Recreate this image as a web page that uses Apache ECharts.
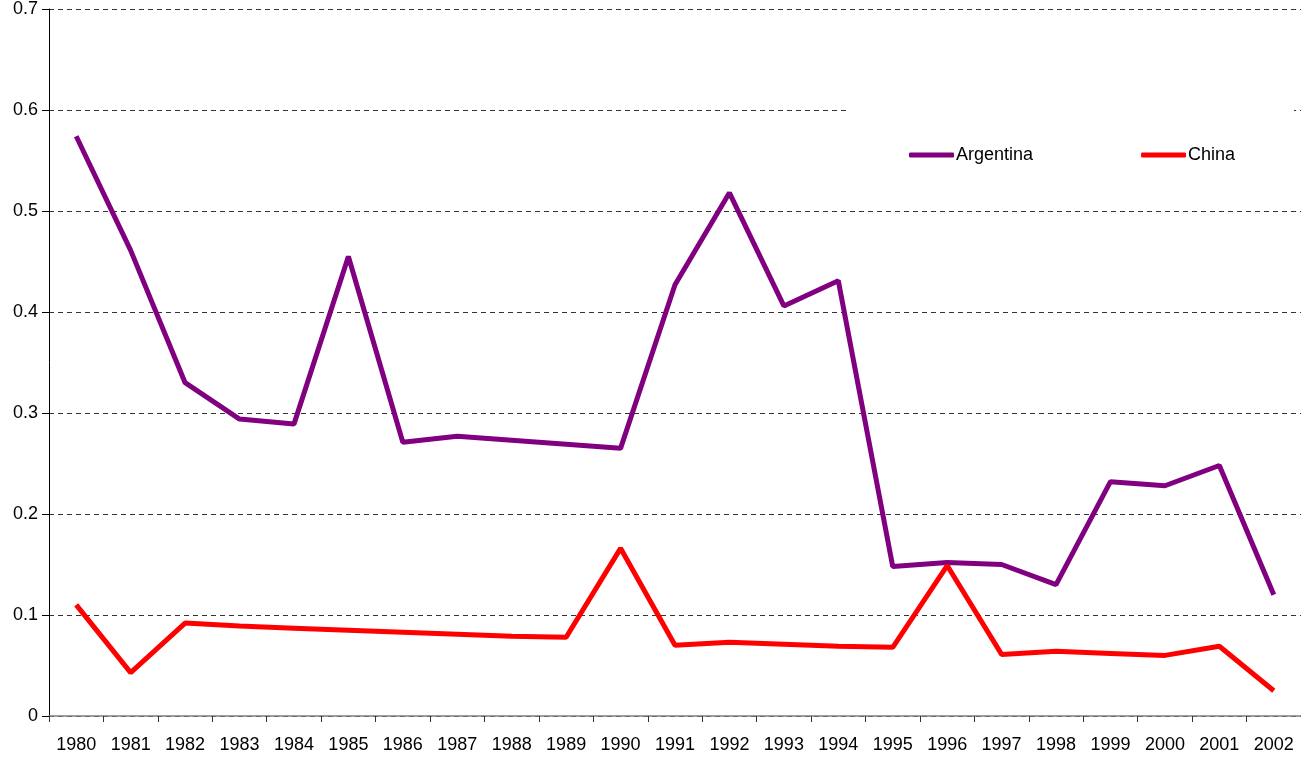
<!DOCTYPE html>
<html>
<head>
<meta charset="utf-8">
<script src="https://cdn.jsdelivr.net/npm/echarts@6/dist/echarts.min.js"></script>
<style>
  html, body { margin: 0; padding: 0; background: #fff; }
  #chart { width: 1301px; height: 757px; }
</style>
</head>
<body>
<div id="chart"></div>
<script>
var years = ['1980', '1981', '1982', '1983', '1984', '1985', '1986', '1987', '1988', '1989', '1990', '1991',
    '1992', '1993', '1994', '1995', '1996', '1997', '1998', '1999', '2000', '2001', '2002'];
// Argentina
var argentina = [0.574, 0.461, 0.330, 0.294, 0.289, 0.455, 0.271, 0.277, 0.273, 0.269, 0.265, 0.427,
    0.518, 0.406, 0.431, 0.148, 0.152, 0.150, 0.130, 0.232, 0.228, 0.248, 0.120];
// China
var china = [0.110, 0.043, 0.092, 0.089, 0.087, 0.085, 0.083, 0.081, 0.079, 0.078, 0.166, 0.070,
    0.073, 0.071, 0.069, 0.068, 0.149, 0.061, 0.064, 0.062, 0.060, 0.069, 0.025];

var myChart = echarts.init(document.getElementById('chart'));

var option = {
    animation: false,
    backgroundColor: '#fff',
    textStyle: { fontFamily: 'Liberation Sans, Arial, sans-serif' },
    grid: { left: 49, right: 0, top: 9, bottom: 41 },
    // 图例背后的白框，盖住网格线
    graphic: [{
        type: 'rect',
        z: 1,
        shape: { x: 848, y: 100, width: 446, height: 105 },
        style: { fill: '#fff' }
    }],
    legend: {
        left: 904,
        top: 141,
        itemWidth: 45,
        itemHeight: 5,
        itemGap: 108,
        textStyle: { fontSize: 18, color: '#000', padding: [0, 0, 0, -3] },
        data: [
            { name: 'Argentina', icon: 'roundRect' },
            { name: 'China', icon: 'roundRect' }
        ]
    },
    xAxis: {
        type: 'category',
        data: years,
        boundaryGap: true,
        axisLine: { lineStyle: { color: '#808080', width: 1.5 } },
        axisTick: { show: true, length: 6, lineStyle: { color: '#333' } },
        axisLabel: { color: '#000', fontSize: 18, margin: 20 }
    },
    yAxis: {
        type: 'value',
        min: 0,
        max: 0.7,
        interval: 0.1,
        axisLine: { show: true, lineStyle: { color: '#000', width: 1 } },
        axisTick: { show: true, length: 7, lineStyle: { color: '#000' } },
        axisLabel: { color: '#000', fontSize: 18, margin: 11 },
        splitLine: { lineStyle: { color: '#333', type: [5, 4], width: 1 } }
    },
    series: [{
        name: 'Argentina',
        type: 'line',
        data: argentina,
        symbol: 'none',
        z: 3,
        itemStyle: { color: '#800080' },
        lineStyle: { color: '#800080', width: 5 }
    }, {
        name: 'China',
        type: 'line',
        data: china,
        symbol: 'none',
        z: 3,
        itemStyle: { color: '#ff0000' },
        lineStyle: { color: '#ff0000', width: 5 }
    }]
};

myChart.setOption(option);
</script>
</body>
</html>
